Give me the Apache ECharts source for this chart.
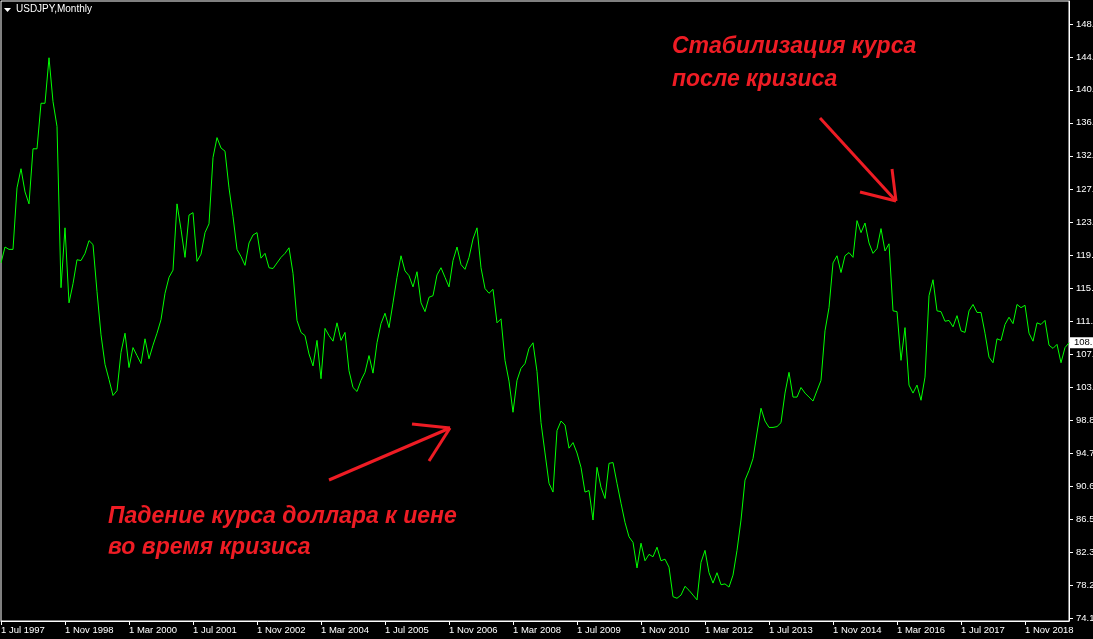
<!DOCTYPE html>
<html>
<head>
<meta charset="utf-8">
<script src="https://cdn.jsdelivr.net/npm/echarts@6/dist/echarts.min.js"></script>
<style>
html,body{margin:0;padding:0;background:#000;}
#chart{width:1093px;height:639px;}
</style>
</head>
<body>
<div id="chart"></div>
<script>
// USDJPY monthly closes, Jul 1997 .. Oct 2019
const startYear = 1997;
const startMonth = 6; // Jul (0-based)
const monthNames = ['Jan','Feb','Mar','Apr','May','Jun','Jul','Aug','Sep','Oct','Nov','Dec'];

const closes = [
  /*1997*/ 118.6, 120.6, 120.3, 120.3, 128.0, 130.4,
  /*1998*/ 127.5, 126.0, 132.9, 132.9, 138.6, 138.6, 144.3, 138.8, 135.7, 115.5, 123.0, 113.6,
  /*1999*/ 116.0, 119.0, 118.9, 119.8, 121.4, 120.9, 115.0, 109.6, 105.9, 104.0, 102.0, 102.6,
  /*2000*/ 107.4, 109.8, 105.5, 108.0, 107.0, 106.0, 109.1, 106.6, 108.3, 109.8, 111.5, 114.8,
  /*2001*/ 116.8, 117.7, 126.0, 122.8, 119.3, 124.6, 124.9, 118.8, 119.7, 122.4, 123.5, 131.8,
  /*2002*/ 134.3, 133.0, 132.6, 128.0, 124.4, 120.3, 119.4, 118.3, 121.1, 122.1, 122.4, 119.2,
  /*2003*/ 119.8, 118.0, 117.9, 118.6, 119.3, 119.8, 120.5, 117.3, 111.4, 109.9, 109.5, 107.2,
  /*2004*/ 105.7, 108.9, 104.1, 110.4, 109.5, 108.8, 111.1, 108.9, 109.9, 105.1, 103.0, 102.5,
  /*2005*/ 103.9, 104.9, 107.0, 104.8, 108.6, 111.0, 112.3, 110.5, 113.6, 116.8, 119.5, 117.6,
  /*2006*/ 117.0, 115.6, 117.5, 113.6, 112.5, 114.3, 114.5, 117.1, 118.0, 116.8, 115.6, 118.9,
  /*2007*/ 120.6, 118.4, 117.8, 119.3, 121.6, 123.0, 118.0, 115.4, 114.8, 115.3, 111.1, 111.6,
  /*2008*/ 106.4, 103.8, 99.9, 103.9, 105.4, 106.0, 107.9, 108.6, 105.0, 98.6, 94.8, 91.0,
  /*2009*/ 89.9, 97.6, 98.8, 98.3, 95.4, 96.1, 94.8, 93.0, 89.9, 90.1, 86.4, 93.0,
  /*2010*/ 90.5, 89.1, 93.5, 93.6, 91.0, 88.5, 86.1, 84.3, 83.6, 80.4, 83.5, 81.3,
  /*2011*/ 82.1, 81.8, 83.0, 81.3, 81.5, 80.5, 76.8, 76.6, 77.0, 78.1, 77.6, 77.0,
  /*2012*/ 76.4, 81.1, 82.6, 79.8, 78.5, 79.8, 78.3, 78.4, 78.0, 79.5, 82.6, 86.4,
  /*2013*/ 91.4, 92.6, 94.1, 97.3, 100.4, 98.8, 98.0, 98.0, 98.1, 98.6, 102.3, 104.9,
  /*2014*/ 101.8, 101.8, 103.0, 102.3, 101.8, 101.3, 102.6, 103.9, 110.1, 113.0, 118.6, 119.5,
  /*2015*/ 117.4, 119.5, 119.9, 119.3, 123.9, 122.4, 123.6, 121.1, 119.8, 120.4, 122.9, 120.1,
  /*2016*/ 121.0, 112.6, 112.5, 106.4, 110.5, 103.3, 102.3, 103.3, 101.4, 104.3, 114.5, 116.5,
  /*2017*/ 112.6, 112.5, 111.3, 111.4, 110.6, 112.0, 110.1, 109.9, 112.6, 113.4, 112.4, 112.4,
  /*2018*/ 109.8, 106.8, 106.1, 109.1, 108.9, 110.9, 111.8, 111.0, 113.4, 113.0, 113.3, 109.8,
  /*2019*/ 108.8, 111.1, 110.9, 111.4, 108.3, 107.9, 108.4, 106.1, 108.0, 108.6
];

// price scale tick values (right axis) and their labels
const yTickValues = [74.13, 78.25, 82.38, 86.51, 90.64, 94.77, 98.89, 103.02, 107.15, 111.28,
                     115.40, 119.53, 123.66, 127.79, 132.02, 136.15, 140.28, 144.41, 148.53];
const yTickLabels = ['74.13','78.25','82.38','86.51','90.64','94.77','98.89','103.02','107.15','111.28',
                     '115.40','119.53','123.66','127.79','132.02','136.15','140.28','144.41','148.53'];

const titleText = 'USDJPY,Monthly';
const noteTop = ['Стабилизация курса', 'после кризиса'];
const noteBottom = ['Падение курса доллара к иене', 'во время кризиса'];

const categories = [];
for (let i = 0; i < closes.length; i++) {
  const m = (startMonth + i) % 12;
  const y = startYear + Math.floor((startMonth + i) / 12);
  categories.push('1 ' + monthNames[m] + ' ' + y);
}
const lastValue = closes[closes.length - 1];

const chart = echarts.init(document.getElementById('chart'), null, {renderer: 'canvas'});
const FONT = '"Liberation Sans", Arial, sans-serif';
const RED = '#ee1c24';
const noteFont = 'italic bold 23px "Liberation Sans", Arial, sans-serif';

chart.setOption({
  animation: false,
  backgroundColor: '#000',
  grid: {left: 1, right: 24, top: 1, bottom: 18, show: true, borderColor: '#fff', borderWidth: 1,
         containLabel: false, outerBoundsMode: 'none'},
  xAxis: {
    type: 'category',
    data: categories,
    boundaryGap: false,
    axisLine: {show: true, lineStyle: {color: '#fff', width: 1}},
    axisTick: {show: true, interval: 15, length: 4, lineStyle: {color: '#fff'}},
    axisLabel: {show: true, interval: 15, align: 'left', margin: 4, color: '#fff',
                fontSize: 9.5, fontFamily: FONT, showMinLabel: true, hideOverlap: false},
    splitLine: {show: false}
  },
  yAxis: {
    type: 'value',
    position: 'right',
    min: 73.754,
    max: 151.41,
    axisLine: {show: true, lineStyle: {color: '#fff', width: 1}},
    axisTick: {show: true, length: 4, customValues: yTickValues, lineStyle: {color: '#fff'}},
    axisLabel: {
      show: true, customValues: yTickValues, margin: 7, color: '#fff',
      fontSize: 9.5, fontFamily: FONT, align: 'left', hideOverlap: false,
      formatter: function (v) {
        let best = 0;
        for (let i = 1; i < yTickValues.length; i++) {
          if (Math.abs(yTickValues[i] - v) < Math.abs(yTickValues[best] - v)) best = i;
        }
        return yTickLabels[best];
      }
    },
    splitLine: {show: false}
  },
  series: [{
    type: 'line',
    data: closes,
    symbol: 'none',
    lineStyle: {color: '#00ff00', width: 1},
    z: 3,
    markLine: {
      silent: true,
      symbol: ['none', 'none'],
      lineStyle: {color: 'rgba(0,0,0,0)', width: 0, type: 'solid'},
      label: {
        show: true, position: 'end', distance: 1,
        formatter: lastValue.toFixed(2),
        backgroundColor: '#fff', color: '#000', fontSize: 9.5, fontFamily: FONT,
        padding: [1, 6, 0, 4]
      },
      data: [{yAxis: lastValue}]
    }
  }],
  graphic: [
    {type: 'polygon', shape: {points: [[4, 8], [11, 8], [7.5, 12]]}, style: {fill: '#fff'}, silent: true},
    {type: 'text', left: 16, top: 4, style: {text: titleText, fill: '#fff', font: '10px ' + FONT}, silent: true},

    {type: 'text', x: 672, y: 47, style: {text: noteTop[0], fill: RED, font: noteFont, verticalAlign: 'middle'}, silent: true},
    {type: 'text', x: 672, y: 80, style: {text: noteTop[1], fill: RED, font: noteFont, verticalAlign: 'middle'}, silent: true},
    {type: 'text', x: 108, y: 517, style: {text: noteBottom[0], fill: RED, font: noteFont, verticalAlign: 'middle'}, silent: true},
    {type: 'text', x: 108, y: 548, style: {text: noteBottom[1], fill: RED, font: noteFont, verticalAlign: 'middle'}, silent: true},

    {type: 'line', shape: {x1: 329, y1: 480, x2: 450, y2: 428}, style: {stroke: RED, lineWidth: 3}, silent: true},
    {type: 'line', shape: {x1: 412, y1: 424, x2: 450, y2: 428}, style: {stroke: RED, lineWidth: 3}, silent: true},
    {type: 'line', shape: {x1: 429, y1: 461, x2: 450, y2: 428}, style: {stroke: RED, lineWidth: 3}, silent: true},

    {type: 'line', shape: {x1: 820, y1: 118, x2: 896, y2: 201}, style: {stroke: RED, lineWidth: 3}, silent: true},
    {type: 'line', shape: {x1: 860, y1: 192, x2: 896, y2: 201}, style: {stroke: RED, lineWidth: 3}, silent: true},
    {type: 'line', shape: {x1: 892, y1: 169, x2: 896, y2: 201}, style: {stroke: RED, lineWidth: 3}, silent: true}
  ]
});
</script>
</body>
</html>
